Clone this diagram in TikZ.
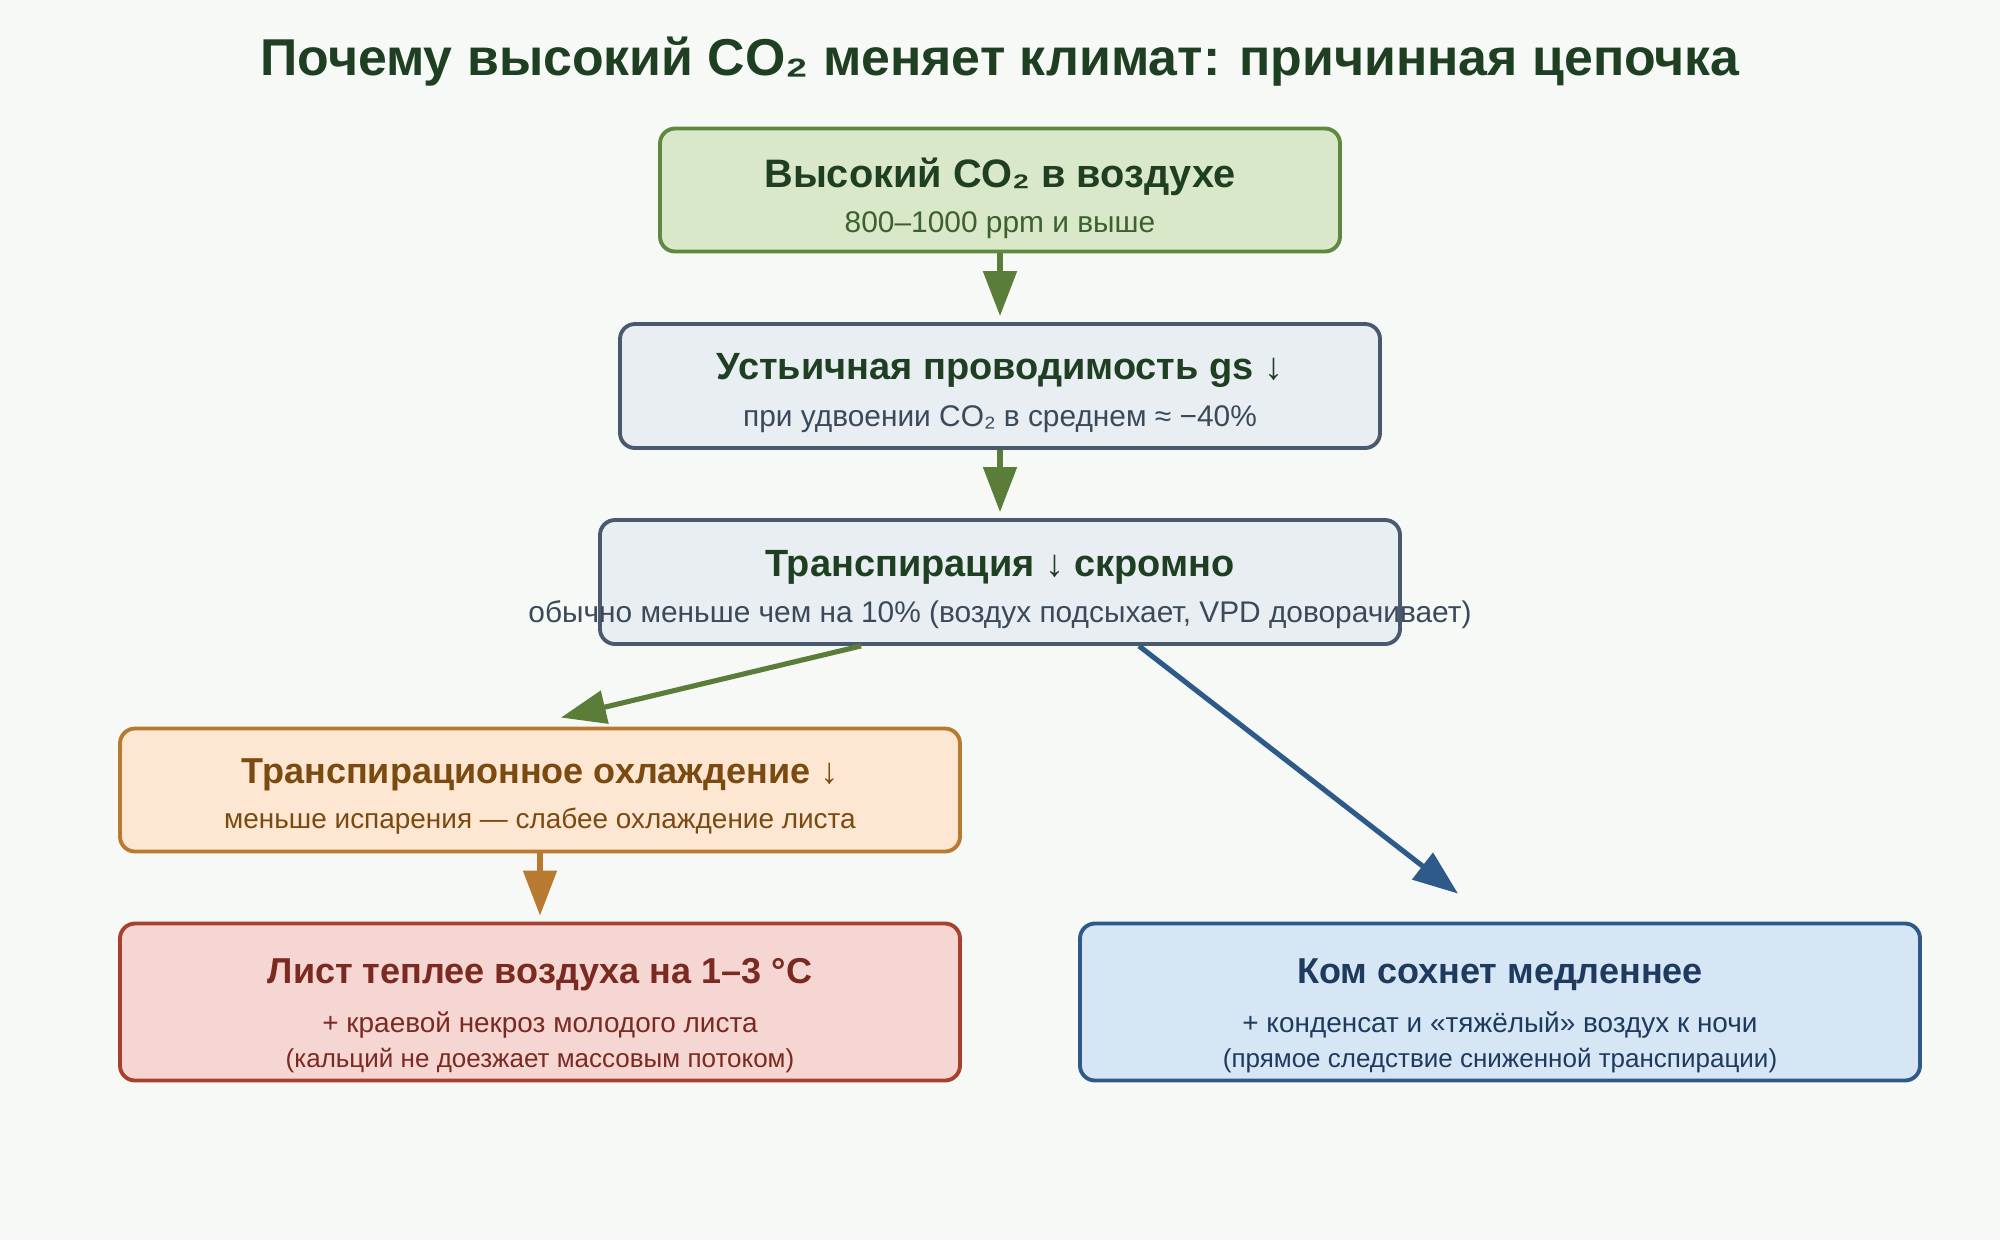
\documentclass[tikz,border=0pt]{standalone}
\usepackage{fontspec}
\setmainfont{Liberation Sans}
\usetikzlibrary{arrows.meta}
\definecolor{bgpage}{HTML}{F7F9F7}
\definecolor{titlegreen}{HTML}{1F3F22}
\definecolor{co2fill}{HTML}{D9E8C8}
\definecolor{co2line}{HTML}{5E8A40}
\definecolor{co2sub}{HTML}{3E6030}
\definecolor{slatefill}{HTML}{E8EEF2}
\definecolor{slateline}{HTML}{4A5A6E}
\definecolor{slatesub}{HTML}{3A4A5A}
\definecolor{coolfill}{HTML}{FDE6D2}
\definecolor{coolline}{HTML}{B87A30}
\definecolor{cooltext}{HTML}{7A4A10}
\definecolor{leaffill}{HTML}{F6D6D2}
\definecolor{leafline}{HTML}{A84030}
\definecolor{leaftext}{HTML}{7A2A20}
\definecolor{soilfill}{HTML}{D6E6F4}
\definecolor{soilline}{HTML}{2E5A8A}
\definecolor{soiltext}{HTML}{1E3A5E}
\definecolor{arrgreen}{HTML}{5A7D3A}
\newcommand{\thindown}{{\fontseries{m}\selectfont ↓}}

\begin{document}
\begin{tikzpicture}[
    box/.style={draw, rounded corners=0.15cm, line width=1.1pt},
    headtxt/.style={font=\fontsize{10.8pt}{12pt}\selectfont\bfseries},
    headlow/.style={font=\fontsize{10.25pt}{12pt}\selectfont\bfseries},
    subtxt/.style={font=\fontsize{8.5pt}{10pt}\selectfont},
    sublow/.style={font=\fontsize{7.95pt}{9pt}\selectfont},
    smalltxt/.style={font=\fontsize{7.4pt}{8.5pt}\selectfont},
    link/.style={line width=1.45pt, -{Triangle[length=0.45cm,width=0.33cm]}, shorten >=0.06cm}
  ]
  % page
  \fill[bgpage] (0,0) rectangle (20,-12.4);
  \useasboundingbox (0,0) rectangle (20,-12.4);

  \node[font=\fontsize{14.75pt}{17pt}\selectfont\bfseries, text=titlegreen] (title) at (10,-0.62)
    {Почему высокий CO₂ меняет климат: причинная цепочка};

  % boxes
  \node[box, fill=co2fill, draw=co2line, minimum width=6.8cm, minimum height=1.23cm] (b1) at (10,-1.90) {};
  \node[box, fill=slatefill, draw=slateline, minimum width=7.6cm, minimum height=1.24cm] (b2) at (10,-3.86) {};
  \node[box, fill=slatefill, draw=slateline, minimum width=8.0cm, minimum height=1.24cm] (b3) at (10,-5.82) {};
  \node[box, fill=coolfill, draw=coolline, minimum width=8.4cm, minimum height=1.23cm] (b4) at (5.40,-7.90) {};
  \node[box, fill=leaffill, draw=leafline, minimum width=8.4cm, minimum height=1.57cm] (b5) at (5.40,-10.02) {};
  \node[box, fill=soilfill, draw=soilline, minimum width=8.4cm, minimum height=1.57cm] (b6) at (15.0,-10.02) {};

  % texts
  \node[headtxt, font=\fontsize{11.3pt}{12pt}\selectfont\bfseries, text=titlegreen] (b1h) at ([yshift=0.13cm]b1.center) {Высокий CO₂ в воздухе};
  \node[subtxt, text=co2sub] (b1s) at ([yshift=-0.35cm]b1.center) {800–1000 ppm и выше};

  \node[headtxt, text=titlegreen] (b2h) at ([yshift=0.16cm]b2.center) {Устьичная проводимость gs \thindown};
  \node[subtxt, text=slatesub] (b2s) at ([yshift=-0.33cm]b2.center) {при удвоении CO₂ в среднем ≈ −40\%};

  \node[headtxt, text=titlegreen] (b3h) at ([yshift=0.15cm]b3.center) {Транспирация \thindown{} скромно};
  \node[subtxt, text=slatesub] (b3s) at ([yshift=-0.33cm]b3.center) {обычно меньше чем на 10\% (воздух подсыхает, VPD доворачивает)};

  \node[headlow, text=cooltext] (b4h) at ([yshift=0.15cm]b4.center) {Транспирационное охлаждение \thindown};
  \node[sublow, text=cooltext] (b4s) at ([yshift=-0.31cm]b4.center) {меньше испарения — слабее охлаждение листа};

  \node[headlow, text=leaftext] (b5h) at ([yshift=0.27cm]b5.center) {Лист теплее воздуха на 1–3 °C};
  \node[sublow, text=leaftext] (b5s) at ([yshift=-0.23cm]b5.center) {+ краевой некроз молодого листа};
  \node[smalltxt, text=leaftext] (b5n) at ([yshift=-0.59cm]b5.center) {(кальций не доезжает массовым потоком)};

  \node[headlow, text=soiltext] (b6h) at ([yshift=0.27cm]b6.center) {Ком сохнет медленнее};
  \node[sublow, text=soiltext] (b6s) at ([yshift=-0.23cm]b6.center) {+ конденсат и «тяжёлый» воздух к ночи};
  \node[smalltxt, text=soiltext] (b6n) at ([yshift=-0.59cm]b6.center) {(прямое следствие сниженной транспирации)};

  % arrows
  \coordinate (s34) at ([xshift=-1.39cm]b3.south);
  \coordinate (t34) at ([xshift=0.21cm,yshift=0.09cm]b4.north);
  \coordinate (s36) at ([xshift=1.39cm]b3.south);
  \coordinate (t36) at ([xshift=-0.42cm,yshift=0.28cm]b6.north);

  \draw[link, arrgreen] (b1.south) -- (b2.north);
  \draw[link, arrgreen] (b2.south) -- (b3.north);
  \draw[link, arrgreen, shorten >=0pt] (s34) -- (t34);
  \draw[link, coolline] (b4.south) -- (b5.north);
  \draw[link, soilline, shorten >=0pt] (s36) -- (t36);
\end{tikzpicture}
\end{document}
